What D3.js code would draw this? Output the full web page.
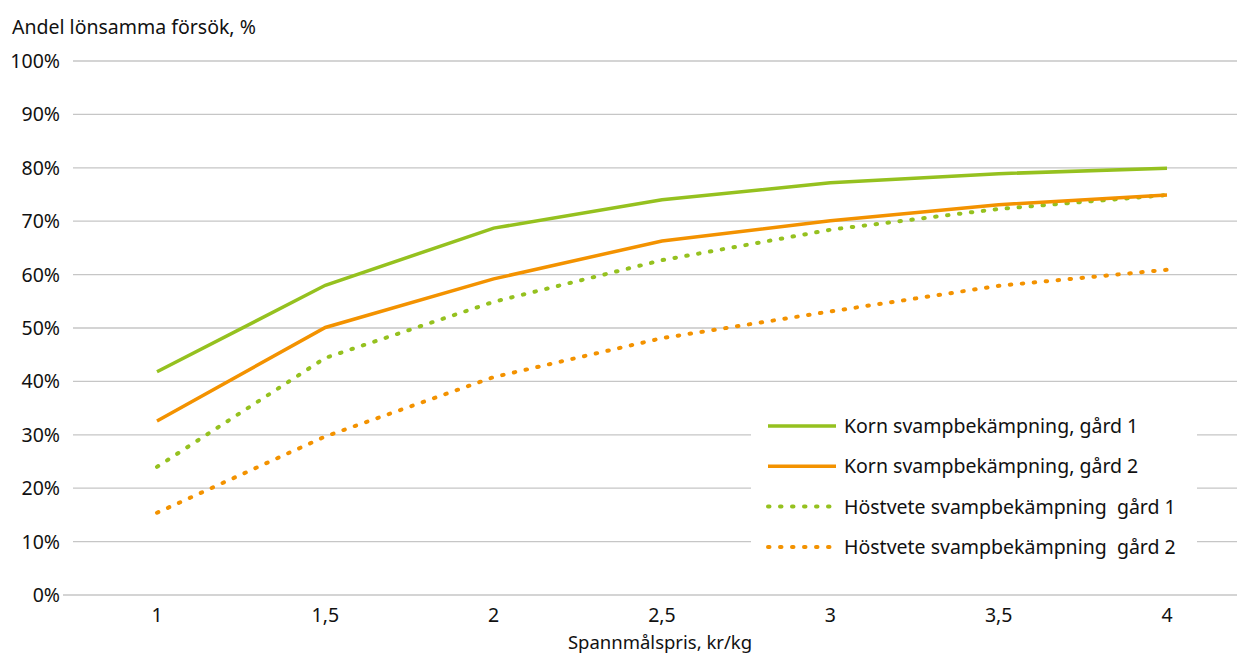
<!DOCTYPE html>
<html>
<head>
<meta charset="utf-8">
<script src="https://cdn.jsdelivr.net/npm/d3@7"></script>
<style>
  body { margin: 0; background: #fff; }
  text { font-family: "Noto Sans", sans-serif; fill: #111; white-space: pre; }
</style>
</head>
<body>
<script>
// data
const prices = ["1", "1,5", "2", "2,5", "3", "3,5", "4"];
const kornGard1 = [41.8, 58.0, 68.7, 74.0, 77.2, 78.9, 79.9];
const kornGard2 = [32.6, 50.1, 59.2, 66.3, 70.1, 73.1, 74.9];
const hostveteGard1 = [24.0, 44.4, 54.9, 62.7, 68.4, 72.3, 74.9];
const hostveteGard2 = [15.4, 29.7, 40.8, 48.1, 53.1, 57.9, 60.9];
const yTicks = [0, 10, 20, 30, 40, 50, 60, 70, 80, 90, 100];
const seriesNames = ["Korn svampbekämpning, gård 1", "Korn svampbekämpning, gård 2",
                     "Höstvete svampbekämpning  gård 1", "Höstvete svampbekämpning  gård 2"];

const green = "#95c11f", orange = "#f39200";
const series = [
  {name: seriesNames[0], values: kornGard1, color: green, dotted: false},
  {name: seriesNames[1], values: kornGard2, color: orange, dotted: false},
  {name: seriesNames[2], values: hostveteGard1, color: green, dotted: true},
  {name: seriesNames[3], values: hostveteGard2, color: orange, dotted: true}
];

const w = 1237, h = 655;
const fs = "19.5px";
const svg = d3.select("body").append("svg")
  .attr("width", w).attr("height", h);

const x = d3.scalePoint().domain(prices).range([157, 1167]);
const y = d3.scaleLinear().domain([0, 100]).range([595, 61]);

// gridlines
svg.append("g").selectAll("line")
  .data(yTicks)
  .enter().append("line")
  .attr("x1", d => d === 0 ? 63 : 73)
  .attr("x2", w)
  .attr("y1", d => y(d)).attr("y2", d => y(d))
  .attr("stroke", "#c6c6c6")
  .attr("stroke-width", 1.3);

// y labels
svg.append("g").selectAll("text")
  .data(yTicks)
  .enter().append("text")
  .attr("x", 60)
  .attr("y", d => y(d) + 7)
  .attr("text-anchor", "end")
  .style("font-size", fs)
  .text(d => d + "%");

// x labels
svg.append("g").selectAll("text")
  .data(prices)
  .enter().append("text")
  .attr("x", d => x(d))
  .attr("y", 622)
  .attr("text-anchor", "middle")
  .style("font-size", fs)
  .text(d => d);

svg.append("text")
  .attr("x", 12).attr("y", 34)
  .style("font-size", fs)
  .text("Andel lönsamma försök, %");

svg.append("text")
  .attr("x", 660).attr("y", 649)
  .attr("text-anchor", "middle")
  .style("font-size", "18.5px")
  .text("Spannmålspris, kr/kg");

const line = d3.line()
  .x((d, i) => x(prices[i]))
  .y(d => y(d));

// draw dotted first so solid ones sit on top
const order = [3, 2, 1, 0];
svg.append("g").selectAll("path")
  .data(order.map(i => series[i]))
  .enter().append("path")
  .attr("d", d => line(d.values))
  .attr("fill", "none")
  .attr("stroke", d => d.color)
  .attr("stroke-width", d => d.dotted ? 4 : 3.5)
  .attr("stroke-linecap", d => d.dotted ? "round" : "butt")
  .attr("stroke-dasharray", d => d.dotted ? "1.5 10.5" : null);

// legend
const legend = svg.append("g");
legend.append("rect")
  .attr("x", 751).attr("y", 408)
  .attr("width", 446).attr("height", 156)
  .attr("fill", "#fff");

const rows = legend.selectAll("g.item")
  .data(series)
  .enter().append("g")
  .attr("class", "item")
  .attr("transform", (d, i) => "translate(0," + (426 + i * 40.3) + ")");

rows.append("line")
  .attr("x1", 768)
  .attr("x2", 836)
  .attr("stroke", d => d.color)
  .attr("stroke-width", d => d.dotted ? 4 : 3.5)
  .attr("stroke-linecap", d => d.dotted ? "round" : "butt")
  .attr("stroke-dasharray", d => d.dotted ? "1.5 10.5" : null);

rows.append("text")
  .attr("x", 844)
  .attr("y", 7)
  .style("font-size", fs)
  .text(d => d.name);
</script>
</body>
</html>
